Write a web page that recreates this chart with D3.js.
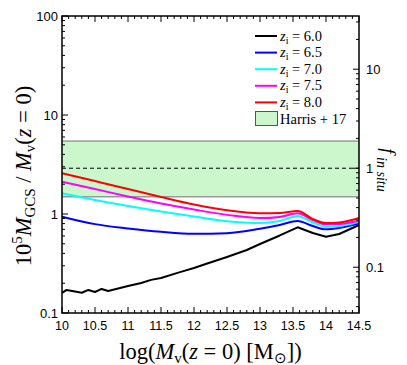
<!DOCTYPE html>
<html>
<head>
<meta charset="utf-8">
<script src="https://cdn.jsdelivr.net/npm/d3@7"></script>
<style>
  body { margin: 0; background: #fff; }
  svg { display: block; }
</style>
</head>
<body>
<script>
const W = 407, H = 365;
const margin = {top: 16, right: 48, bottom: 52, left: 62};

// data
const logM = [10, 10.5, 11, 11.5, 12, 12.5, 13, 13.3, 13.57, 13.8, 14.0, 14.2, 14.5];
const z65 = [0.94, 0.79, 0.714, 0.66, 0.63, 0.64, 0.71, 0.775, 0.85, 0.756, 0.70, 0.722, 0.805];
const z70 = [1.62, 1.385, 1.205, 1.06, 0.943, 0.845, 0.81, 0.85, 0.955, 0.82, 0.745, 0.756, 0.836];
const z75 = [2.12, 1.79, 1.50, 1.276, 1.11, 0.98, 0.91, 0.935, 1.016, 0.87, 0.787, 0.793, 0.856];
const z80 = [2.58, 2.15, 1.79, 1.485, 1.247, 1.09, 1.02, 1.025, 1.07, 0.89, 0.81, 0.82, 0.91];

const logM60 = [10, 10.07, 10.3, 10.4, 10.5, 10.6, 10.7, 11.0, 11.2, 11.35, 11.5, 11.8, 12.0, 12.2, 12.5, 12.8, 13.0, 13.3, 13.57, 13.8, 14.0, 14.2, 14.5];
const z60 = [0.160, 0.171, 0.160, 0.171, 0.163, 0.175, 0.167, 0.187, 0.201, 0.216, 0.226, 0.26, 0.285, 0.316, 0.368, 0.433, 0.498, 0.607, 0.734, 0.643, 0.59, 0.628, 0.774];

const series = [
  {label: "6.0", color: "#000000", x: logM60, y: z60},
  {label: "6.5", color: "#0000ff", x: logM, y: z65},
  {label: "7.0", color: "#00ffff", x: logM, y: z70},
  {label: "7.5", color: "#ff00ff", x: logM, y: z75},
  {label: "8.0", color: "#ff0000", x: logM, y: z80}
];

const harris = [1.496, 5.46];
const harrisMid = 2.9;
const xTicks = [10, 10.5, 11, 11.5, 12, 12.5, 13, 13.5, 14, 14.5];
const yTicks = [0.1, 1, 10, 100];
const y2Ticks = [0.1, 1, 10];

const svg = d3.select("body").append("svg").attr("width", W).attr("height", H);

const x = d3.scaleLinear().domain([10, 14.5]).range([margin.left, W - margin.right]);
const y = d3.scaleLog().domain([0.1, 100]).range([H - margin.bottom, margin.top]);
const y2 = d3.scaleLog().domain([0.1 / harrisMid, 100 / harrisMid]).range([H - margin.bottom, margin.top]);

const x0 = margin.left, x1 = W - margin.right, yb = H - margin.bottom, yt = margin.top;

// Harris band
svg.append("rect")
  .attr("x", x0).attr("width", x1 - x0)
  .attr("y", y(harris[1])).attr("height", y(harris[0]) - y(harris[1]))
  .attr("fill", "#ccf7cc");
svg.append("line").attr("x1", x0).attr("x2", x1)
  .attr("y1", y(harris[1])).attr("y2", y(harris[1]))
  .attr("stroke", "#707070").attr("stroke-width", 1);
svg.append("line").attr("x1", x0).attr("x2", x1)
  .attr("y1", y(harris[0])).attr("y2", y(harris[0]))
  .attr("stroke", "#999").attr("stroke-width", 1.5);
svg.append("line").attr("x1", x0).attr("x2", x1)
  .attr("y1", y(harrisMid)).attr("y2", y(harrisMid))
  .attr("stroke", "#000").attr("stroke-width", 1).attr("stroke-dasharray", "4,3");

// curves
series.forEach(s => {
  const pts = s.x.map((v, i) => [v, s.y[i]]);
  svg.append("path")
    .datum(pts)
    .attr("fill", "none")
    .attr("stroke", s.color)
    .attr("stroke-width", 2)
    .attr("stroke-linejoin", "round")
    .attr("d", d3.line().x(d => x(d[0])).y(d => y(d[1]))
      .curve(s.label === "6.0" ? d3.curveLinear : d3.curveMonotoneX));
});

// ticks (inside)
const tk = svg.append("g").attr("stroke", "#000").attr("stroke-width", 1);
const xMinor = d3.range(100, 146).map(d => d / 10);
xMinor.forEach(v => {
  const major = Math.abs(v * 2 - Math.round(v * 2)) < 1e-6;
  const len = major ? 6 : 3;
  tk.append("line").attr("x1", x(v)).attr("x2", x(v)).attr("y1", yb).attr("y2", yb - len);
  tk.append("line").attr("x1", x(v)).attr("x2", x(v)).attr("y1", yt).attr("y2", yt + len);
});
function logTicks(scale, xpos, dir) {
  const [a, b] = scale.domain();
  for (let e = -3; e <= 3; e++) {
    for (let m = 1; m <= 9; m++) {
      const v = m * Math.pow(10, e);
      if (v < a * 0.999 || v > b * 1.001) continue;
      const len = m === 1 ? 6 : 3;
      tk.append("line").attr("x1", xpos).attr("x2", xpos + dir * len)
        .attr("y1", scale(v)).attr("y2", scale(v));
    }
  }
}
logTicks(y, x0, 1);
logTicks(y2, x1, -1);

// frame
svg.append("rect").attr("x", x0).attr("y", yt).attr("width", x1 - x0).attr("height", yb - yt)
  .attr("fill", "none").attr("stroke", "#000").attr("stroke-width", 1.5);

// tick labels
const sans = "'Liberation Sans', Arial, sans-serif";
svg.append("g").selectAll("text").data(xTicks).join("text")
  .attr("x", d => x(d)).attr("y", yb + 17)
  .attr("text-anchor", "middle").attr("font-family", sans).attr("font-size", 12.5)
  .text(d => d);
svg.append("g").selectAll("text").data(yTicks).join("text")
  .attr("x", x0 - 4).attr("y", d => y(d) + 4.5)
  .attr("text-anchor", "end").attr("font-family", sans).attr("font-size", 13)
  .text(d => d);
svg.append("g").selectAll("text").data(y2Ticks).join("text")
  .attr("x", x1 + 7).attr("y", d => y2(d) + 4.5)
  .attr("text-anchor", "start").attr("font-family", sans).attr("font-size", 13)
  .text(d => d);

// axis labels
const serif = "'Liberation Serif', 'Times New Roman', serif";
const xl = svg.append("text")
  .attr("x", (x0 + x1) / 2).attr("y", 359)
  .attr("text-anchor", "middle").attr("font-family", serif).attr("font-size", 22.5);
xl.append("tspan").text("log(");
xl.append("tspan").attr("font-style", "italic").text("M");
xl.append("tspan").attr("font-size", 15).attr("dy", 4).text("v");
xl.append("tspan").attr("dy", -4).text("(");
xl.append("tspan").attr("font-style", "italic").text("z");
xl.append("tspan").text(" = 0) [M");
xl.append("tspan").attr("font-size", 15).attr("dy", 4).text("\u2299");
xl.append("tspan").attr("dy", -4).text("])");

const yl = svg.append("text")
  .attr("transform", `translate(31,176) rotate(-90)`)
  .attr("text-anchor", "middle").attr("font-family", serif).attr("font-size", 22.5);
yl.append("tspan").text("10");
yl.append("tspan").attr("font-size", 15).attr("dy", -9).text("5");
yl.append("tspan").attr("dy", 9).attr("font-style", "italic").text("M");
yl.append("tspan").attr("font-size", 15).attr("dy", 4).text("GCS");
yl.append("tspan").attr("dy", -4).text(" / ");
yl.append("tspan").attr("font-style", "italic").text("M");
yl.append("tspan").attr("font-size", 15).attr("dy", 4).text("v");
yl.append("tspan").attr("dy", -4).text("(");
yl.append("tspan").attr("font-style", "italic").text("z");
yl.append("tspan").text(" = 0)");

const rl = svg.append("text")
  .attr("transform", `translate(382,170) rotate(90)`)
  .attr("text-anchor", "middle").attr("font-family", serif).attr("font-size", 19)
  .attr("font-style", "italic");
rl.append("tspan").text("f");
rl.append("tspan").attr("font-size", 14).attr("dy", 5).text(" in situ");

// legend
const lg = svg.append("g").attr("font-family", serif).attr("font-size", 14.5);
series.forEach((s, i) => {
  const ly = 36 + i * 16.6;
  lg.append("line").attr("x1", 255).attr("x2", 277).attr("y1", ly).attr("y2", ly)
    .attr("stroke", s.color).attr("stroke-width", 2);
  const t = lg.append("text").attr("x", 280).attr("y", ly + 4.5);
  t.append("tspan").attr("font-style", "italic").text("z");
  t.append("tspan").attr("font-size", 10).attr("dy", 3).text("i");
  t.append("tspan").attr("dy", -3).text(" = " + s.label);
});
lg.append("rect").attr("x", 255.5).attr("y", 111.5).attr("width", 22).attr("height", 14)
  .attr("fill", "#ccf7cc").attr("stroke", "#555").attr("stroke-width", 1);
lg.append("text").attr("x", 280).attr("y", 123.5).text("Harris + 17");
</script>
</body>
</html>
